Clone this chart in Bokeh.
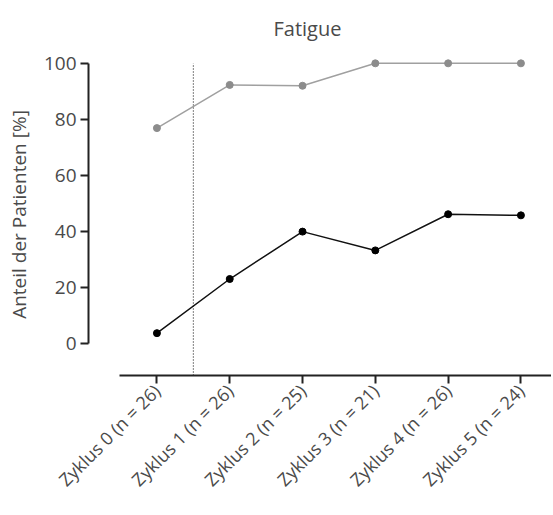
import math
from bokeh.plotting import figure
from bokeh.models import FixedTicker, Range1d
from bokeh.embed import file_html
from bokeh.resources import INLINE

categories = ["Zyklus 0 (n = 26)", "Zyklus 1 (n = 26)", "Zyklus 2 (n = 25)",
              "Zyklus 3 (n = 21)", "Zyklus 4 (n = 26)", "Zyklus 5 (n = 24)"]
any_grade = [76.9, 92.3, 92.0, 100.0, 100.0, 100.0]
grade_high = [3.8, 23.1, 40.0, 33.3, 46.2, 45.8]
y_ticks = [0, 20, 40, 60, 80, 100]
separator_x = 0.5

xs = list(range(len(categories)))
FONT = "Open Sans"
TXT = "#4a4a4a"

p = figure(width=551, height=513, output_backend="svg", toolbar_location=None,
           x_range=Range1d(-0.94, 5.42), y_range=Range1d(-11.3, 103.5),
           min_border_left=88, min_border_right=0, min_border_top=53,
           min_border_bottom=138, title="Fatigue")
p.outline_line_color = None
p.grid.visible = False
p.background_fill_color = "white"
p.border_fill_color = "white"

p.title.align = "left"
p.title.offset = 185
p.title.vertical_align = "bottom"
p.title.text_font = FONT
p.title.text_font_size = "20px"
p.title.text_font_style = "normal"
p.title.text_color = TXT
p.title.standoff = 24

# y axis
ya = p.yaxis[0]
ya.ticker = FixedTicker(ticks=y_ticks)
ya.bounds = (0, 100)
ya.axis_label = "Anteil der Patienten [%]"
ya.axis_label_text_font = FONT
ya.axis_label_text_font_size = "19px"
ya.axis_label_text_font_style = "normal"
ya.axis_label_text_color = TXT
ya.axis_label_standoff = 9
ya.major_label_text_font = FONT
ya.major_label_text_font_size = "19px"
ya.major_label_text_color = TXT
ya.major_label_standoff = 4
ya.major_tick_out = 8
ya.major_tick_in = 0
ya.minor_tick_out = 0
ya.minor_tick_in = 0
ya.axis_line_width = 2
ya.major_tick_line_width = 2
ya.axis_line_color = "#222222"
ya.major_tick_line_color = "#222222"

# x axis
xa = p.xaxis[0]
xa.ticker = FixedTicker(ticks=xs)
xa.major_label_overrides = {i: c for i, c in enumerate(categories)}
xa.major_label_orientation = math.pi / 4
xa.bounds = (-0.51, 6)
xa.major_label_text_font = FONT
xa.major_label_text_font_size = "18px"
xa.major_label_text_color = TXT
xa.major_label_standoff = 4
xa.major_tick_out = 8
xa.major_tick_in = 0
xa.minor_tick_out = 0
xa.minor_tick_in = 0
xa.axis_line_width = 2
xa.major_tick_line_width = 2
xa.axis_line_color = "#222222"
xa.major_tick_line_color = "#222222"

# separator
p.segment(x0=[separator_x], y0=[p.y_range.start], x1=[separator_x], y1=[100],
          line_color="#000000", line_width=1, line_dash="1 2")

p.line(xs, any_grade, line_color="#a0a0a0", line_width=1.5)
p.scatter(xs, any_grade, size=7, fill_color="#8c8c8c", line_color="#8c8c8c")
p.line(xs, grade_high, line_color="#111111", line_width=1.5)
p.scatter(xs, grade_high, size=7, fill_color="#000000", line_color="#000000")

open("out.html", "w").write(file_html(p, INLINE))
